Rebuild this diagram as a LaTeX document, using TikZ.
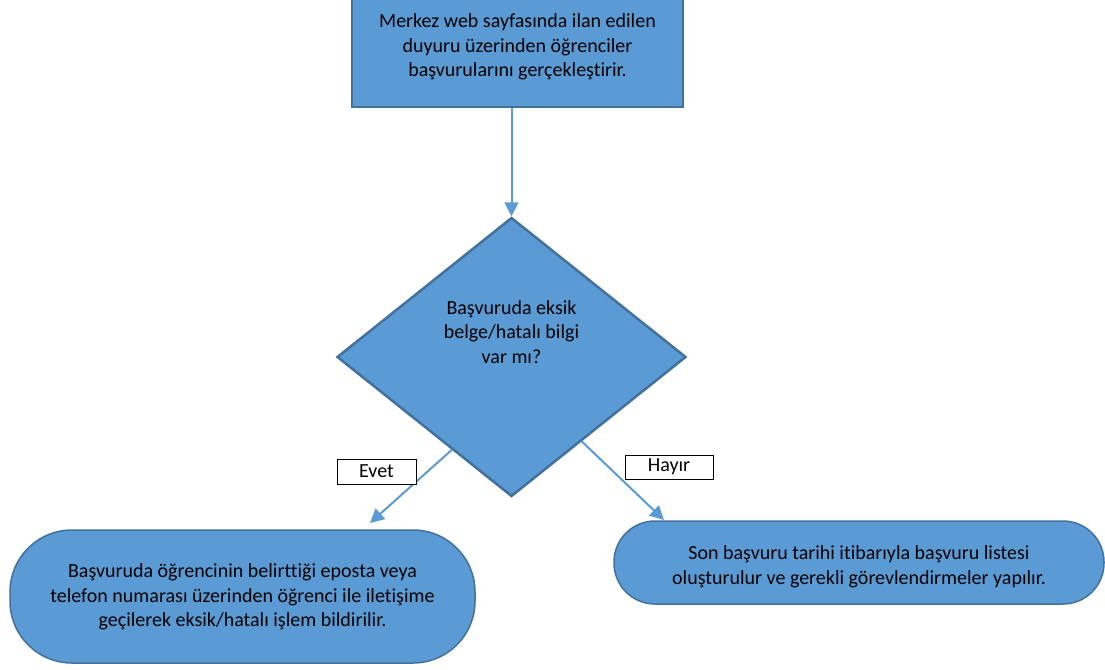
\documentclass[tikz,border=0pt]{standalone}
\usepackage{fontspec}
\setmainfont{Carlito}[Ligatures=NoCommon]
\usetikzlibrary{shapes.geometric,arrows.meta,calc}
\definecolor{boxblue}{HTML}{5B9BD5}
\definecolor{edgeblue}{HTML}{41719C}

\begin{document}
\begin{tikzpicture}[x=1pt,y=-1pt,
      txt/.style={font=\fontsize{20}{24.5}\selectfont, align=center, inner sep=0},
      stepbox/.style={draw=edgeblue, line width=2.5pt, fill=boxblue},
      endbox/.style={draw=edgeblue, line width=1.5pt, fill=boxblue},
      flow/.style={draw=boxblue, line width=2pt, -{Triangle[length=14pt,width=14pt]}},
      answer/.style={draw=black, line width=0.8pt, fill=white, font=\fontsize{20}{22}\selectfont}]
      \useasboundingbox (0,0) rectangle (1105,669);
      % basvuru
      \node[stepbox, rectangle, minimum width=331pt, minimum height=112pt] (web) at (517.5,51) {};
      \node[txt] (webtxt) at (517.5,47) {Merkez web sayfasında ilan edilen\\duyuru üzerinden öğrenciler\\başvurularını gerçekleştirir.};
      % karar
      \node[stepbox, diamond, minimum width=349pt, minimum height=279pt, inner sep=0] (dec) at (511.5,357) {};
      \node[txt] (dectxt) at (511.5,332) {Başvuruda eksik\\belge/hatalı bilgi\\var mı?};
      % sonuclar
      \node[endbox, rectangle, rounded corners=62pt, minimum width=465pt, minimum height=133pt] (err) at (242.5,596.5) {};
      \node[txt] (errtxt) at (242.5,597) {Başvuruda öğrencinin belirttiği eposta veya\\telefon numarası üzerinden öğrenci ile iletişime\\geçilerek eksik/hatalı işlem bildirilir.};
      \node[endbox, rectangle, rounded corners=41pt, minimum width=490pt, minimum height=83pt] (ok) at (859,562.5) {};
      \node[txt] (oktxt) at (859,567) {Son başvuru tarihi itibarıyla başvuru listesi\\oluşturulur ve gerekli görevlendirmeler yapılır.};
      % oklar
      \draw[flow] (dec.north |- web.south) -- (dec.north);
      \coordinate (evetend) at (370,523);
      \coordinate (hayirend) at (664,520);
      \draw[flow] ($(dec.west)!0.66!(dec.south)$) -- (evetend);
      \draw[flow] ($(dec.east)!0.6!(dec.south)$) -- (hayirend);
      \node[answer, minimum width=79pt, minimum height=25pt] (evet) at (376.5,471.5) {Evet};
      \node[answer, minimum width=88pt, minimum height=24pt] (hayir) at (669,467) {Hayır};
    \end{tikzpicture}
\end{document}
